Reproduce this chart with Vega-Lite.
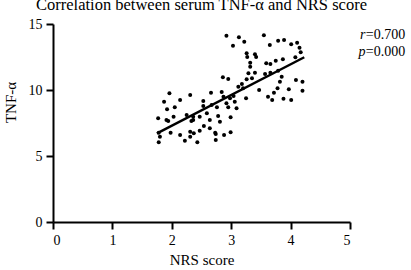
{
  "$schema": "https://vega.github.io/schema/vega-lite/v6.json",
  "autosize": {"type": "none"},
  "padding": {"left": 53, "top": 24, "right": 61, "bottom": 48},
  "width": 297,
  "height": 198,
  "background": "white",
  "config": {
    "view": {"stroke": null},
    "font": "Liberation Serif",
    "axis": {
      "domainColor": "black", "domainWidth": 2, "tickColor": "black", "tickWidth": 2, "tickSize": 7,
      "labelFont": "Liberation Serif", "labelFontSize": 14, "labelColor": "black",
      "titleFont": "Liberation Serif", "titleFontSize": 15, "titleFontWeight": "normal", "titleColor": "black",
      "grid": false
    }
  },
  "title": {
    "text": "Correlation between serum TNF-α and NRS score",
    "font": "Liberation Serif", "fontSize": 16.5, "fontWeight": "normal", "color": "black",
    "anchor": "middle", "baseline": "alphabetic", "offset": -9
  },
  "datasets": {
    "pts": [
      {"nrs":2.92,"tnf":14.11},{"nrs":3.13,"tnf":13.99},{"nrs":3.55,"tnf":14.14},{"nrs":3.03,"tnf":13.36},
      {"nrs":3.22,"tnf":13.66},{"nrs":3.65,"tnf":13.41},{"nrs":3.79,"tnf":13.73},{"nrs":3.89,"tnf":13.79},
      {"nrs":4.01,"tnf":13.46},{"nrs":4.11,"tnf":13.58},{"nrs":4.15,"tnf":13.2},{"nrs":4.17,"tnf":12.86},
      {"nrs":3.26,"tnf":12.78},{"nrs":3.4,"tnf":12.7},{"nrs":3.27,"tnf":12.5},{"nrs":3.42,"tnf":12.5},
      {"nrs":3.32,"tnf":12.07},{"nrs":3.32,"tnf":11.77},{"nrs":3.59,"tnf":12.02},{"nrs":3.66,"tnf":11.97},
      {"nrs":3.75,"tnf":12.22},{"nrs":3.87,"tnf":12.33},{"nrs":4.08,"tnf":12.48},{"nrs":3.79,"tnf":11.46},
      {"nrs":3.66,"tnf":11.31},{"nrs":3.57,"tnf":11.21},{"nrs":3.4,"tnf":11.31},{"nrs":3.29,"tnf":11.27},
      {"nrs":3.26,"tnf":10.81},{"nrs":3.35,"tnf":10.89},{"nrs":2.86,"tnf":10.96},{"nrs":2.95,"tnf":10.83},
      {"nrs":3.85,"tnf":11.01},{"nrs":3.82,"tnf":10.63},{"nrs":4.09,"tnf":10.76},{"nrs":4.2,"tnf":10.63},
      {"nrs":3.18,"tnf":10.45},{"nrs":3.12,"tnf":10.25},{"nrs":3.2,"tnf":10.13},{"nrs":3.47,"tnf":10.0},
      {"nrs":3.78,"tnf":10.13},{"nrs":3.72,"tnf":9.8},{"nrs":3.97,"tnf":10.05},{"nrs":4.2,"tnf":9.95},
      {"nrs":3.62,"tnf":9.49},{"nrs":3.69,"tnf":9.24},{"nrs":3.88,"tnf":9.34},{"nrs":4.01,"tnf":9.24},
      {"nrs":1.96,"tnf":9.75},{"nrs":2.31,"tnf":9.62},{"nrs":2.66,"tnf":9.8},{"nrs":2.84,"tnf":9.85},
      {"nrs":1.87,"tnf":9.11},{"nrs":2.14,"tnf":9.24},{"nrs":2.53,"tnf":9.17},{"nrs":2.87,"tnf":9.49},
      {"nrs":2.98,"tnf":9.37},{"nrs":3.04,"tnf":9.55},{"nrs":3.06,"tnf":9.11},{"nrs":3.25,"tnf":9.37},
      {"nrs":2.53,"tnf":8.79},{"nrs":2.67,"tnf":8.86},{"nrs":2.76,"tnf":8.69},{"nrs":2.92,"tnf":8.99},
      {"nrs":3.09,"tnf":8.61},{"nrs":1.92,"tnf":8.54},{"nrs":2.05,"tnf":8.69},{"nrs":2.95,"tnf":8.69},
      {"nrs":1.77,"tnf":7.86},{"nrs":1.91,"tnf":7.73},{"nrs":2.03,"tnf":7.98},{"nrs":2.25,"tnf":8.11},
      {"nrs":2.36,"tnf":7.98},{"nrs":2.47,"tnf":7.98},{"nrs":2.59,"tnf":8.23},{"nrs":2.78,"tnf":8.03},
      {"nrs":2.99,"tnf":7.93},{"nrs":2.36,"tnf":7.73},{"nrs":2.64,"tnf":7.73},{"nrs":2.81,"tnf":7.6},
      {"nrs":1.94,"tnf":7.65},{"nrs":2.33,"tnf":7.65},{"nrs":1.78,"tnf":6.77},{"nrs":1.98,"tnf":6.77},
      {"nrs":2.14,"tnf":6.59},{"nrs":2.31,"tnf":6.84},{"nrs":2.37,"tnf":6.72},{"nrs":2.47,"tnf":6.92},
      {"nrs":2.54,"tnf":7.27},{"nrs":2.64,"tnf":7.1},{"nrs":2.73,"tnf":6.77},{"nrs":2.88,"tnf":6.59},
      {"nrs":2.99,"tnf":6.8},{"nrs":1.8,"tnf":6.46},{"nrs":2.31,"tnf":6.46},{"nrs":2.22,"tnf":6.16},
      {"nrs":1.78,"tnf":6.04},{"nrs":2.43,"tnf":6.04},{"nrs":2.74,"tnf":6.21},{"nrs":2.74,"tnf":6.67}
    ],
    "fit": [{"nrs":1.75,"tnf":6.72},{"nrs":4.23,"tnf":12.48}],
    "stats": [{"stat":"r","value":"=0.700","tnf":14.17},{"stat":"p","value":"=0.000","tnf":12.85}]
  },
  "layer": [
    {
      "data": {"name": "pts"},
      "mark": {"type": "point", "filled": true, "shape": "circle", "size": 16, "color": "black", "opacity": 1},
      "encoding": {
        "x": {"field": "nrs", "type": "quantitative", "scale": {"domain": [0, 5], "nice": false},
              "axis": {"values": [0,1,2,3,4,5], "format": "d", "title": "NRS score", "labelPadding": 4, "titlePadding": 5}},
        "y": {"field": "tnf", "type": "quantitative", "scale": {"domain": [0, 15], "nice": false},
              "axis": {"values": [0,5,10,15], "format": "d", "title": "TNF-α", "labelPadding": 4, "titleY": 78, "titleX": -43, "titleBaseline": "middle"}}
      }
    },
    {
      "data": {"name": "fit"},
      "mark": {"type": "line", "color": "black", "strokeWidth": 2.5},
      "encoding": {
        "x": {"field": "nrs", "type": "quantitative"},
        "y": {"field": "tnf", "type": "quantitative"}
      }
    },
    {
      "data": {"name": "stats"},
      "mark": {"type": "text", "align": "right", "baseline": "middle", "fontSize": 14, "font": "Liberation Serif", "color": "black", "clip": false},
      "encoding": {
        "x": {"datum": 5.93, "type": "quantitative"},
        "y": {"field": "tnf", "type": "quantitative"},
        "text": {"field": "value"}
      }
    },
    {
      "data": {"name": "stats"},
      "mark": {"type": "text", "align": "right", "baseline": "middle", "fontSize": 14, "font": "Liberation Serif", "fontStyle": "italic", "color": "black", "clip": false},
      "encoding": {
        "x": {"datum": 5.26, "type": "quantitative"},
        "y": {"field": "tnf", "type": "quantitative"},
        "text": {"field": "stat"}
      }
    }
  ]
}
